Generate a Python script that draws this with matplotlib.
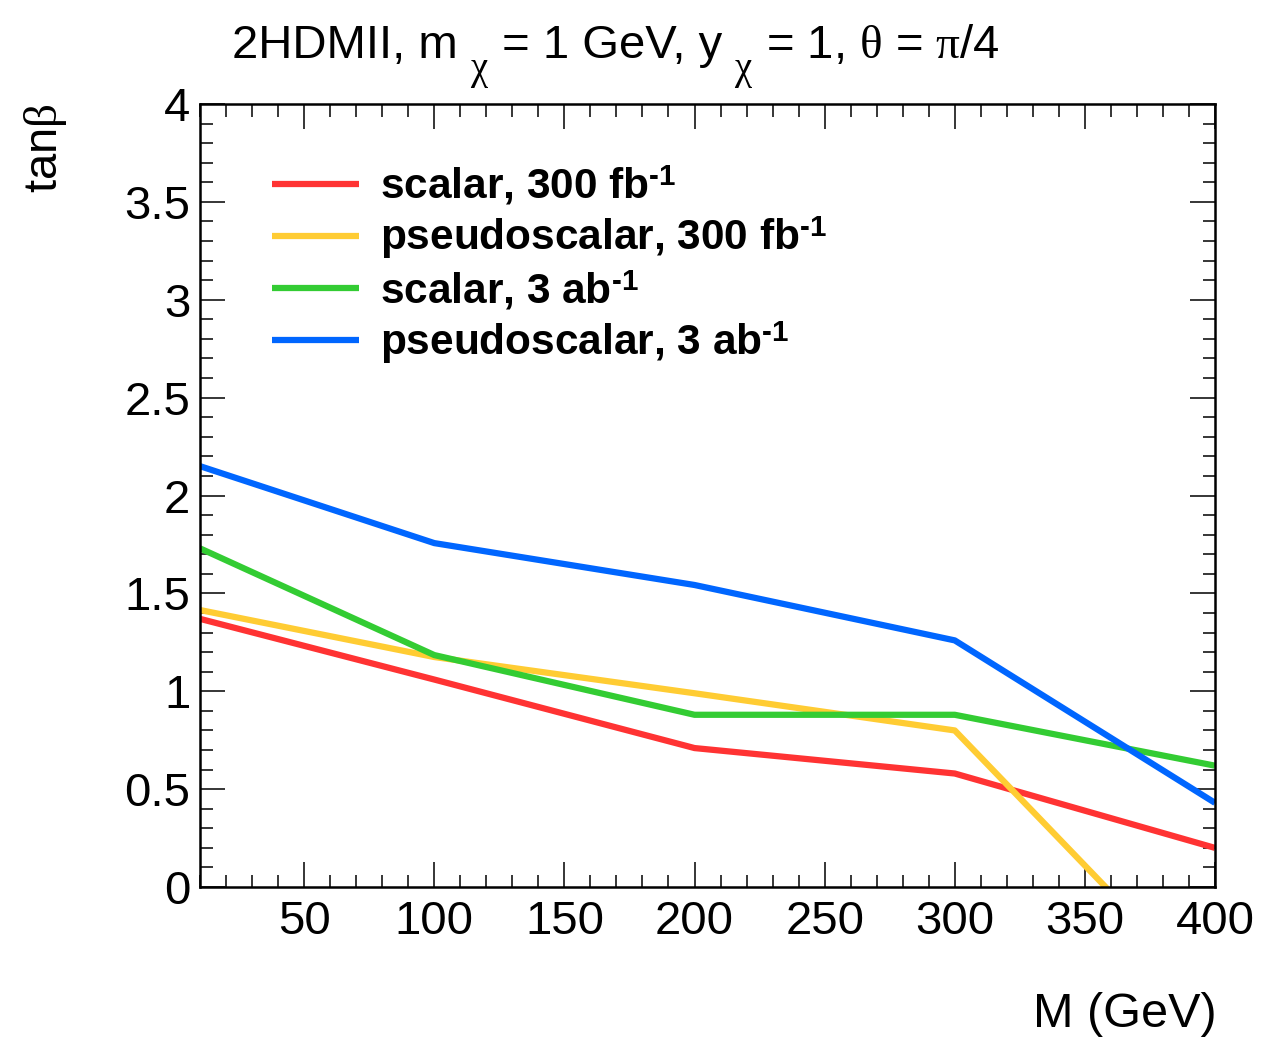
import numpy as np
import matplotlib
matplotlib.use('Agg')
import matplotlib.pyplot as plt
from matplotlib.ticker import MultipleLocator

plt.rcParams['font.family'] = ['Liberation Sans', 'DejaVu Sans']
plt.rcParams['mathtext.fontset'] = 'custom'
plt.rcParams['mathtext.rm'] = 'Liberation Sans'
plt.rcParams['mathtext.it'] = 'Liberation Serif'
plt.rcParams['mathtext.bf'] = 'Liberation Sans:bold'

# mediator mass points (GeV)
mass = [10, 100, 200, 300, 400]

tanb_scalar_300 = [1.37, 1.06, 0.71, 0.58, 0.20]
tanb_pseudo_300 = [1.415, 1.175, 0.99, 0.80, -0.58]
tanb_scalar_3ab = [1.73, 1.185, 0.88, 0.88, 0.62]
tanb_pseudo_3ab = [2.15, 1.757, 1.543, 1.26, 0.43]

labels = ['scalar, 300 fb$^{\\mathbf{\u20101}}$',
          'pseudoscalar, 300 fb$^{\\mathbf{\u20101}}$',
          'scalar, 3 ab$^{\\mathbf{\u20101}}$',
          'pseudoscalar, 3 ab$^{\\mathbf{\u20101}}$']
colors = ['#ff3333', '#ffcc33', '#33cc33', '#0066ff']

fig = plt.figure(figsize=(12.63, 10.37), dpi=100)
ax = fig.add_axes([0.1584, 0.1446, 0.8036, 0.7551])

series = [tanb_scalar_300, tanb_pseudo_300, tanb_scalar_3ab, tanb_pseudo_3ab]
for y, c, lab in zip(series, colors, labels):
    ax.plot(mass, y, color=c, lw=4.5, label=lab, solid_capstyle='butt')

ax.set_xlim(10, 400)
ax.set_ylim(0, 4)
ax.xaxis.set_minor_locator(MultipleLocator(10))
ax.yaxis.set_minor_locator(MultipleLocator(0.1))
ax.set_xticks([50, 100, 150, 200, 250, 300, 350, 400])
ax.set_yticks([0, 0.5, 1, 1.5, 2, 2.5, 3, 3.5, 4])
ax.set_yticklabels(['0', '0.5', '1', '1.5', '2', '2.5', '3', '3.5', '4'])
ax.tick_params(which='both', direction='in', top=True, right=True, width=1.1,
               labelsize=34, pad=7)
ax.tick_params(axis='x', which='major', pad=9)
ax.tick_params(which='major', length=18)
ax.tick_params(which='minor', length=9)
for s in ax.spines.values():
    s.set_linewidth(1.8)

# title built piece by piece so the chi subscripts can sit low
title_parts = [('2HDMII, m', 0, 34), (r'$\chi$', -21, 28), (' = 1 GeV, y', 0, 34),
               (r'$\chi$', -21, 28), (r' = 1, $\theta$ = $\pi$/4', 0, 34)]
base_y = 1037 - 58
renderer = fig.canvas.get_renderer()
pieces = []
x = 0.0
for txt, dy, size in title_parts:
    t = fig.text(0, 0, txt, fontsize=size, ha='left', va='baseline', transform=None)
    w = t.get_window_extent(renderer).width
    if dy:
        x += 12
    pieces.append((t, x, dy))
    x += w
x0 = 616 - x / 2
for t, xoff, dy in pieces:
    t.set_position((x0 + xoff, base_y + dy))

fig.text(0.963, 0.0, 'M (GeV)', ha='right', va='bottom', fontsize=35)
fig.text(0.036, 0.9, r'tan$\beta$', rotation=90, ha='center', va='top', fontsize=34)

leg = ax.legend(loc='upper left', bbox_to_anchor=(0.054, 0.945), frameon=False,
                prop={'weight': 'bold', 'size': 30.5}, handlelength=2.05,
                handletextpad=0.5, labelspacing=0.17, borderaxespad=0)

fig.savefig('out.png', dpi=100)
